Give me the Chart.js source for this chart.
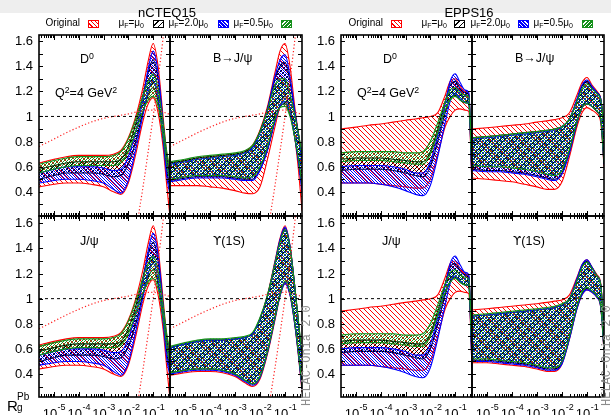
<!DOCTYPE html>
<html><head><meta charset="utf-8">
<script src="https://cdn.jsdelivr.net/npm/chart.js@4/dist/chart.umd.min.js"></script>
<style>
body{margin:0;background:#fff;width:611px;height:415px;overflow:hidden;position:relative;font-family:"Liberation Sans",Arial,sans-serif;}
canvas{position:absolute;left:0;top:0;}
.band{position:absolute;left:0;top:0;width:611px;height:13px;background:#eeeeee;}
.t{position:absolute;white-space:nowrap;color:#000;line-height:1;}
.sup{position:relative;font-size:0.7em;top:-0.45em;}
.sub{position:relative;font-size:0.7em;top:0.3em;}
.ups{font-family:"DejaVu Sans",sans-serif;font-size:0.95em;}
.box{position:absolute;width:9px;height:6px;top:20px;}
.helac{position:absolute;font-family:"Liberation Mono","DejaVu Sans Mono",monospace;font-size:12px;color:#8c8c8c;transform:rotate(-90deg);transform-origin:center center;white-space:nowrap;line-height:1;}
</style></head><body>
<div class="band"></div>
<script>
// ---------------- DATA ----------------
const logX = [-5.6,-5.0,-4.5,-4.0,-3.5,-3.0,-2.6,-2.3,-2.0,-1.7,-1.4,-1.2,-1.0,-0.8,-0.6,-0.45,-0.32];
const xTickDecades = [-5,-4,-3,-2,-1];
const yTickLabels = [0.4,0.6,0.8,1.0,1.2,1.4,1.6];

// nCTEQ15, D0 (also J/psi)
const ncD0_redHi   = [0.63,0.66,0.68,0.69,0.69,0.69,0.70,0.73,0.83,1.00,1.24,1.44,1.58,1.40,1.00,0.70,0.55];
const ncD0_redLo   = [0.44,0.46,0.47,0.47,0.46,0.44,0.40,0.38,0.47,0.70,0.97,1.10,1.15,1.03,0.76,0.45,0.20];
const ncD0_blackHi = [0.58,0.61,0.63,0.64,0.64,0.64,0.64,0.66,0.76,0.94,1.18,1.35,1.45,1.30,0.95,0.67,0.52];
const ncD0_blackLo = [0.50,0.53,0.55,0.55,0.55,0.54,0.52,0.53,0.62,0.80,1.04,1.17,1.23,1.12,0.84,0.57,0.42];
const ncD0_blueHi  = [0.55,0.58,0.60,0.60,0.60,0.59,0.57,0.58,0.68,0.88,1.15,1.38,1.52,1.35,0.95,0.64,0.48];
const ncD0_blueLo  = [0.47,0.49,0.50,0.50,0.49,0.47,0.42,0.39,0.49,0.74,1.02,1.20,1.28,1.15,0.82,0.52,0.38];
const ncD0_greenHi = [0.62,0.65,0.67,0.68,0.68,0.68,0.69,0.72,0.82,0.98,1.17,1.28,1.34,1.22,0.95,0.72,0.58];
const ncD0_greenLo = [0.55,0.58,0.60,0.61,0.61,0.61,0.61,0.63,0.72,0.88,1.05,1.13,1.16,1.08,0.85,0.62,0.48];

// nCTEQ15, B->J/psi
const ncB_redHi   = [0.63,0.65,0.67,0.68,0.69,0.70,0.72,0.77,0.89,1.08,1.35,1.52,1.58,1.40,1.06,0.84,0.62];
const ncB_redLo   = [0.45,0.45,0.45,0.44,0.43,0.41,0.39,0.385,0.44,0.66,0.92,1.08,1.16,1.06,0.82,0.55,0.25];
const ncB_blackHi = [0.63,0.65,0.67,0.68,0.69,0.70,0.72,0.76,0.88,1.06,1.30,1.40,1.43,1.28,1.02,0.85,0.68];
const ncB_blackLo = [0.49,0.51,0.52,0.52,0.52,0.51,0.50,0.50,0.58,0.74,0.97,1.08,1.10,1.02,0.82,0.63,0.42];
const ncB_blueHi  = [0.62,0.64,0.66,0.67,0.68,0.69,0.71,0.75,0.87,1.06,1.32,1.45,1.49,1.32,1.03,0.84,0.66];
const ncB_blueLo  = [0.48,0.50,0.51,0.51,0.51,0.50,0.49,0.49,0.57,0.73,0.96,1.08,1.12,1.03,0.82,0.62,0.40];
const ncB_greenHi = [0.64,0.66,0.68,0.69,0.70,0.71,0.73,0.77,0.88,1.05,1.25,1.30,1.30,1.18,1.00,0.85,0.70];
const ncB_greenLo = [0.50,0.52,0.53,0.53,0.53,0.52,0.51,0.52,0.60,0.76,0.98,1.07,1.08,1.00,0.82,0.65,0.45];

// nCTEQ15, Upsilon(1S)
const ncU_redHi   = [0.61,0.64,0.66,0.67,0.67,0.68,0.69,0.72,0.84,1.03,1.30,1.48,1.58,1.42,1.08,0.78,0.52];
const ncU_redLo   = [0.39,0.41,0.42,0.42,0.41,0.38,0.33,0.30,0.36,0.56,0.83,1.02,1.12,1.03,0.78,0.52,0.26];
const ncU_blackHi = [0.61,0.64,0.66,0.67,0.67,0.68,0.69,0.72,0.84,1.02,1.28,1.46,1.56,1.41,1.08,0.79,0.54];
const ncU_blackLo = [0.41,0.43,0.44,0.44,0.43,0.40,0.35,0.32,0.38,0.58,0.85,1.03,1.13,1.04,0.79,0.54,0.30];
const ncU_blueHi  = [0.61,0.64,0.66,0.67,0.67,0.68,0.69,0.72,0.84,1.02,1.29,1.47,1.57,1.42,1.08,0.78,0.53];
const ncU_blueLo  = [0.40,0.42,0.43,0.43,0.42,0.39,0.34,0.31,0.37,0.57,0.84,1.02,1.12,1.03,0.78,0.53,0.28];
const ncU_greenHi = [0.62,0.65,0.67,0.68,0.68,0.69,0.70,0.73,0.85,1.03,1.28,1.45,1.55,1.41,1.08,0.80,0.56];
const ncU_greenLo = [0.41,0.43,0.44,0.44,0.43,0.40,0.35,0.32,0.38,0.58,0.85,1.03,1.14,1.05,0.80,0.55,0.30];

// EPPS16, D0 (also J/psi)
const epD0_redHi   = [0.90,0.915,0.93,0.94,0.955,0.97,0.98,0.99,1.00,1.03,1.17,1.28,1.30,1.24,1.20,1.18,0.55];
const epD0_redLo   = [0.47,0.47,0.47,0.46,0.45,0.44,0.43,0.43,0.50,0.70,0.92,1.00,1.05,1.06,1.05,1.04,0.45];
const epD0_blackHi = [0.66,0.67,0.67,0.67,0.66,0.65,0.64,0.64,0.72,0.90,1.12,1.25,1.28,1.22,1.19,1.17,0.58];
const epD0_blackLo = [0.57,0.58,0.58,0.58,0.57,0.55,0.53,0.52,0.60,0.80,1.03,1.14,1.17,1.13,1.11,1.10,0.50];
const epD0_blueHi  = [0.60,0.61,0.61,0.61,0.60,0.58,0.55,0.55,0.64,0.85,1.10,1.28,1.34,1.27,1.21,1.19,0.55];
const epD0_blueLo  = [0.47,0.47,0.47,0.46,0.44,0.41,0.38,0.37,0.45,0.68,0.95,1.12,1.18,1.14,1.11,1.10,0.45];
const epD0_greenHi = [0.71,0.72,0.72,0.72,0.72,0.71,0.71,0.72,0.80,0.95,1.12,1.21,1.23,1.19,1.17,1.16,0.60];
const epD0_greenLo = [0.64,0.65,0.65,0.65,0.64,0.63,0.62,0.62,0.70,0.87,1.05,1.13,1.16,1.13,1.11,1.10,0.55];

// EPPS16, B->J/psi
const epB_redHi   = [0.90,0.91,0.92,0.93,0.94,0.955,0.965,0.975,0.99,1.03,1.17,1.27,1.31,1.25,1.20,1.14,0.92];
const epB_redLo   = [0.51,0.50,0.49,0.48,0.46,0.44,0.42,0.42,0.48,0.68,0.92,1.03,1.07,1.05,1.02,0.95,0.60];
const epB_blackHi = [0.83,0.84,0.85,0.86,0.87,0.88,0.89,0.90,0.92,0.98,1.13,1.24,1.28,1.23,1.19,1.14,0.93];
const epB_blackLo = [0.58,0.57,0.57,0.56,0.55,0.53,0.51,0.50,0.55,0.72,0.95,1.07,1.10,1.08,1.04,0.98,0.62];
const epB_blueHi  = [0.82,0.83,0.84,0.85,0.86,0.87,0.88,0.89,0.92,0.98,1.14,1.25,1.29,1.24,1.19,1.14,0.93];
const epB_blueLo  = [0.57,0.56,0.56,0.55,0.54,0.52,0.50,0.49,0.54,0.71,0.95,1.07,1.10,1.08,1.04,0.98,0.62];
const epB_greenHi = [0.83,0.84,0.85,0.86,0.87,0.88,0.89,0.90,0.92,0.98,1.12,1.22,1.26,1.22,1.18,1.13,0.93];
const epB_greenLo = [0.61,0.60,0.60,0.59,0.58,0.56,0.54,0.53,0.57,0.74,0.96,1.07,1.10,1.08,1.04,0.98,0.63];

// EPPS16, Upsilon(1S)
const epU_redHi   = [0.91,0.92,0.93,0.94,0.95,0.96,0.97,0.98,0.99,1.03,1.17,1.27,1.31,1.25,1.19,1.12,0.75];
const epU_redLo   = [0.49,0.49,0.48,0.47,0.46,0.44,0.42,0.42,0.48,0.68,0.92,1.03,1.07,1.05,1.01,0.93,0.58];
const epU_blackHi = [0.86,0.87,0.88,0.89,0.90,0.91,0.92,0.93,0.95,1.00,1.15,1.26,1.30,1.25,1.18,1.11,0.75];
const epU_blackLo = [0.51,0.51,0.50,0.49,0.48,0.46,0.44,0.44,0.49,0.69,0.93,1.04,1.08,1.06,1.02,0.94,0.60];
const epU_blueHi  = [0.86,0.87,0.88,0.89,0.90,0.91,0.92,0.93,0.95,1.00,1.16,1.27,1.31,1.25,1.18,1.11,0.75];
const epU_blueLo  = [0.50,0.50,0.49,0.48,0.47,0.45,0.43,0.43,0.48,0.68,0.92,1.03,1.07,1.05,1.01,0.93,0.59];
const epU_greenHi = [0.87,0.88,0.89,0.90,0.91,0.92,0.93,0.94,0.96,1.00,1.14,1.25,1.29,1.24,1.18,1.11,0.75];
const epU_greenLo = [0.52,0.52,0.51,0.50,0.49,0.47,0.45,0.45,0.50,0.70,0.94,1.05,1.09,1.06,1.02,0.94,0.60];

// red dotted reference curves (nCTEQ15 panels)
const dotA_y = [0.76,0.82,0.87,0.915,0.955,0.985,1.0,1.01,1.02,1.035,1.045,1.05,1.05,1.045,1.035,1.025,1.015];
const dotB_x = [-1.6,-1.4,-1.2,-1.0,-0.8,-0.6,-0.5];
const dotB_y = [0.20,0.45,0.72,1.0,1.30,1.62,1.80];

// ---------------- LAYOUT ----------------
const COLS = {A:[39,170], B:[170,302], C:[341,472], D:[472,604]};
const ROWS = {top:[35,216,0.208,1.648], bot:[216,397,0.217,1.658]};
const XMIN = -5.6, XMAX = -0.32;
const COLORS = {red:'#ff0000', black:'#000000', blue:'#0000ff', green:'#14901a'};

function hatch(ctx, color, dir, gap, lw){
  const c=document.createElement('canvas'); c.width=gap; c.height=gap;
  const g=c.getContext('2d'); g.strokeStyle=color; g.lineWidth=lw;
  g.beginPath();
  if(dir==='\\'){
    g.moveTo(-1,-1); g.lineTo(gap+1,gap+1);
    g.moveTo(-1,gap-1); g.lineTo(1,gap+1);
    g.moveTo(gap-1,-1); g.lineTo(gap+1,1);
  } else {
    g.moveTo(-1,gap+1); g.lineTo(gap+1,-1);
    g.moveTo(-1,1); g.lineTo(1,-1);
    g.moveTo(gap-1,gap+1); g.lineTo(gap+1,gap-1);
  }
  g.stroke();
  return ctx.createPattern(c,'repeat');
}
const pts = (xs, ys) => ys.map((v,i)=>({x:xs[i], y:v}));

const framePlugin = {
  id:'frame',
  afterDatasetsDraw(chart, args, opts){
    const ctx=chart.ctx, a=chart.chartArea, xs=chart.scales.x, ys=chart.scales.y;
    ctx.save();
    ctx.strokeStyle='#000'; ctx.lineWidth=1;
    ctx.beginPath();
    for(let v=0.3; v<=1.61; v+=0.1){
      const py=Math.round(ys.getPixelForValue(v))+0.5;
      if(py<a.top+1||py>a.bottom-1) continue;
      ctx.moveTo(a.left,py); ctx.lineTo(a.left+4,py);
      ctx.moveTo(a.right,py); ctx.lineTo(a.right-4,py);
    }
    for(let d=-6; d<=0; d++){
      for(let m=1; m<=9; m++){
        const lx=d+Math.log10(m);
        if(lx<XMIN||lx>XMAX) continue;
        const px=Math.round(xs.getPixelForValue(lx))+0.5;
        const len = m===1?5:3;
        ctx.moveTo(px,a.bottom); ctx.lineTo(px,a.bottom-len);
        ctx.moveTo(px,a.top); ctx.lineTo(px,a.top+len);
      }
    }
    ctx.stroke();
    ctx.lineWidth=1.6;
    ctx.strokeRect(a.left,a.top,a.right-a.left,a.bottom-a.top);
    ctx.fillStyle='#000';
    if(opts.yLabels){
      ctx.font='13px "Liberation Sans", Arial, sans-serif';
      ctx.textAlign='right'; ctx.textBaseline='middle';
      yTickLabels.forEach(v=>{
        const py=ys.getPixelForValue(v);
        ctx.fillText(v===1?'1':v.toFixed(1), a.left-6, py+0.5);
      });
    }
    if(opts.xLabels){
      ctx.textBaseline='alphabetic'; ctx.textAlign='left';
      xTickDecades.forEach(d=>{
        const px=xs.getPixelForValue(d);
        ctx.font='13px "Liberation Sans", Arial, sans-serif';
        const w1=ctx.measureText('10').width;
        ctx.font='9px "Liberation Sans", Arial, sans-serif';
        const s=String(d);
        const w2=ctx.measureText(s).width;
        const x0=px-(w1+w2)/2;
        ctx.font='13px "Liberation Sans", Arial, sans-serif';
        ctx.fillText('10', x0, 417.5);
        ctx.font='9px "Liberation Sans", Arial, sans-serif';
        ctx.fillText(s, x0+w1+0.5, 410);
      });
    }
    ctx.restore();
  }
};

function makePanel(col,row,set,dotted,yLabels,xLabels){
  const cv=document.createElement('canvas'); cv.width=611; cv.height=415;
  document.body.appendChild(cv);
  const ctx=cv.getContext('2d');
  const [L,R]=COLS[col]; const [T,B,ymin,ymax]=ROWS[row];
  const ds=[];
  ds.push({data:[{x:XMIN,y:1},{x:XMAX,y:1}], borderColor:'#000', borderWidth:1, borderDash:[3,3], fill:false, pointRadius:0});
  if(dotted){
    ds.push({data:pts(logX,dotA_y), borderColor:'#ff2020', borderWidth:1.2, borderDash:[1.2,2.2], fill:false, pointRadius:0, cubicInterpolationMode:'monotone'});
    ds.push({data:pts(dotB_x,dotB_y), borderColor:'#ff2020', borderWidth:1.2, borderDash:[1.2,2.2], fill:false, pointRadius:0, cubicInterpolationMode:'monotone'});
  }
  const pats = {
    green: hatch(ctx, COLORS.green, '/', 3, 1),
    blue:  hatch(ctx, COLORS.blue, '\\', 3, 1),
    black: hatch(ctx, COLORS.black, '/', 4, 1),
    red:   hatch(ctx, COLORS.red, '\\', 5, 1)
  };
  ['green','blue','black','red'].forEach(c=>{
    ds.push({data:pts(logX,set[c+'Hi']), borderColor:COLORS[c], borderWidth:1.1, backgroundColor:pats[c], fill:'+1', pointRadius:0, cubicInterpolationMode:'monotone'});
    ds.push({data:pts(logX,set[c+'Lo']), borderColor:COLORS[c], borderWidth:1.1, fill:false, pointRadius:0, cubicInterpolationMode:'monotone'});
  });
  ds.forEach(d=>{d.clip=0;});
  new Chart(cv,{
    type:'line',
    data:{datasets:ds},
    options:{
      responsive:false, animation:false, devicePixelRatio:1,
      layout:{padding:{left:L, right:611-R, top:T, bottom:415-B}},
      scales:{
        x:{type:'linear', min:XMIN, max:XMAX, display:false},
        y:{type:'linear', min:ymin, max:ymax, display:false}
      },
      plugins:{legend:{display:false}, tooltip:{enabled:false}, frame:{yLabels, xLabels}},
      elements:{line:{tension:0}}
    },
    plugins:[framePlugin]
  });
}

const S = (p)=>({
  redHi:eval(p+'_redHi'), redLo:eval(p+'_redLo'),
  blackHi:eval(p+'_blackHi'), blackLo:eval(p+'_blackLo'),
  blueHi:eval(p+'_blueHi'), blueLo:eval(p+'_blueLo'),
  greenHi:eval(p+'_greenHi'), greenLo:eval(p+'_greenLo')
});

makePanel('A','top',S('ncD0'),true,true,false);
makePanel('B','top',S('ncB'),true,false,false);
makePanel('A','bot',S('ncD0'),true,true,true);
makePanel('B','bot',S('ncU'),true,false,true);
makePanel('C','top',S('epD0'),false,true,false);
makePanel('D','top',S('epB'),false,false,false);
makePanel('C','bot',S('epD0'),false,true,true);
makePanel('D','bot',S('epU'),false,false,true);
</script>

<!-- titles -->
<div class="t" style="left:167px;top:6px;font-size:13px;transform:translateX(-50%);">nCTEQ15</div>
<div class="t" style="left:469px;top:6px;font-size:13px;transform:translateX(-50%);">EPPS16</div>

<!-- legends -->
<div class="t" style="right:531px;top:18px;font-size:10px;">Original</div>
<div class="box" style="left:88px;border:1px solid #f00;background:repeating-linear-gradient(45deg,#fff 0 2px,#f00 2px 3px);"></div>
<div class="t" style="right:467px;top:18px;font-size:10px;">&mu;<span class="sub">F</span>=&mu;<span class="sub">0</span></div>
<div class="box" style="left:153px;border:1px solid #000;background:repeating-linear-gradient(-45deg,#fff 0 3px,#000 3px 4px);"></div>
<div class="t" style="right:403px;top:18px;font-size:10px;">&mu;<span class="sub">F</span>=2.0&mu;<span class="sub">0</span></div>
<div class="box" style="left:218px;border:1px solid #00f;background:repeating-linear-gradient(45deg,#fff 0 1px,#00f 1px 2.5px);"></div>
<div class="t" style="right:338px;top:18px;font-size:10px;">&mu;<span class="sub">F</span>=0.5&mu;<span class="sub">0</span></div>
<div class="box" style="left:281px;border:1px solid #14901a;background:repeating-linear-gradient(-45deg,#fff 0 1px,#14901a 1px 2.5px);"></div>

<div class="t" style="right:228px;top:18px;font-size:10px;">Original</div>
<div class="box" style="left:391px;border:1px solid #f00;background:repeating-linear-gradient(45deg,#fff 0 2px,#f00 2px 3px);"></div>
<div class="t" style="right:164px;top:18px;font-size:10px;">&mu;<span class="sub">F</span>=&mu;<span class="sub">0</span></div>
<div class="box" style="left:454px;border:1px solid #000;background:repeating-linear-gradient(-45deg,#fff 0 3px,#000 3px 4px);"></div>
<div class="t" style="right:101px;top:18px;font-size:10px;">&mu;<span class="sub">F</span>=2.0&mu;<span class="sub">0</span></div>
<div class="box" style="left:518px;border:1px solid #00f;background:repeating-linear-gradient(45deg,#fff 0 1px,#00f 1px 2.5px);"></div>
<div class="t" style="right:38px;top:18px;font-size:10px;">&mu;<span class="sub">F</span>=0.5&mu;<span class="sub">0</span></div>
<div class="box" style="left:582px;border:1px solid #14901a;background:repeating-linear-gradient(-45deg,#fff 0 1px,#14901a 1px 2.5px);"></div>

<!-- panel labels -->
<div class="t" style="left:80px;top:53px;font-size:12.5px;">D<span class="sup">0</span></div>
<div class="t" style="left:55px;top:87px;font-size:12.5px;">Q<span class="sup">2</span>=4 GeV<span class="sup">2</span></div>
<div class="t" style="left:213px;top:52px;font-size:12.5px;">B&rarr;J/&psi;</div>
<div class="t" style="left:383px;top:53px;font-size:12.5px;">D<span class="sup">0</span></div>
<div class="t" style="left:357px;top:87px;font-size:12.5px;">Q<span class="sup">2</span>=4 GeV<span class="sup">2</span></div>
<div class="t" style="left:515px;top:52px;font-size:12.5px;">B&rarr;J/&psi;</div>
<div class="t" style="left:80px;top:235px;font-size:12.5px;">J/&psi;</div>
<div class="t" style="left:213px;top:235px;font-size:12.5px;"><span class="ups">&#978;</span>(1S)</div>
<div class="t" style="left:382px;top:235px;font-size:12.5px;">J/&psi;</div>
<div class="t" style="left:513px;top:235px;font-size:12.5px;"><span class="ups">&#978;</span>(1S)</div>

<!-- axis label -->
<div class="t" style="left:7px;top:398px;font-size:15px;">R</div>
<div class="t" style="left:17px;top:392px;font-size:10px;">Pb</div>
<div class="t" style="left:17px;top:403px;font-size:10px;">g</div>

<!-- watermark -->
<div class="helac" style="left:257px;top:350px;width:100px;text-align:center;">HELAC-Onia 2.0</div>
<div class="helac" style="left:557px;top:350px;width:100px;text-align:center;">HELAC-Onia 2.0</div>
</body></html>
